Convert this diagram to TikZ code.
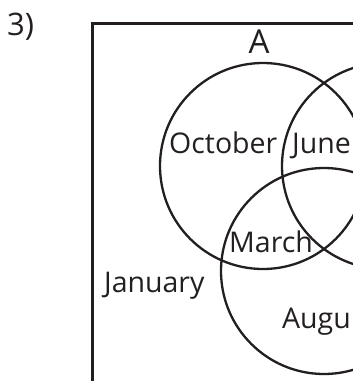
\documentclass[tikz,border=0pt]{standalone}
\usepackage{fontspec}
\setmainfont{Open Sans}
\begin{document}
\begin{tikzpicture}[x=1pt,y=-1pt,
  ink/.style={draw=inkc, line width=2.3pt},
  venn/.style={ink, circle, minimum size=206pt, inner sep=0pt},
  lbl/.style={inner sep=0pt, text=inkc, font=\fontsize{28.5}{34}\selectfont, anchor=base west},
  big/.style={lbl, font=\fontsize{33}{40}\selectfont}]
\definecolor{inkc}{HTML}{231F20}
\useasboundingbox (0,0) rectangle (353,381);
\clip (0,0) rectangle (353,381);
\node[draw=inkc, line width=2.5pt, rectangle, anchor=north west, minimum width=320pt, minimum height=400pt, inner sep=0pt] (U) at (91,22) {};
\node[venn] (A) at (263,166) {};
\node[venn] (B) at (385,166) {};
\node[venn] (C) at (324,271) {};
\node[big, font=\fontsize{31}{37}\selectfont] (n3) at (7,35) {3)};
\node[big, anchor=base] (nA) at (259,53) {A};
\node[lbl] (oct) at (169,153) {October};
\node[lbl] (jun) at (292,153) {June};
\node[lbl] (mar) at (229,252) {March};
\node[lbl] (jan) at (104,292) {January};
\node[lbl] (aug) at (282,328) {Augu};
\end{tikzpicture}
\end{document}
